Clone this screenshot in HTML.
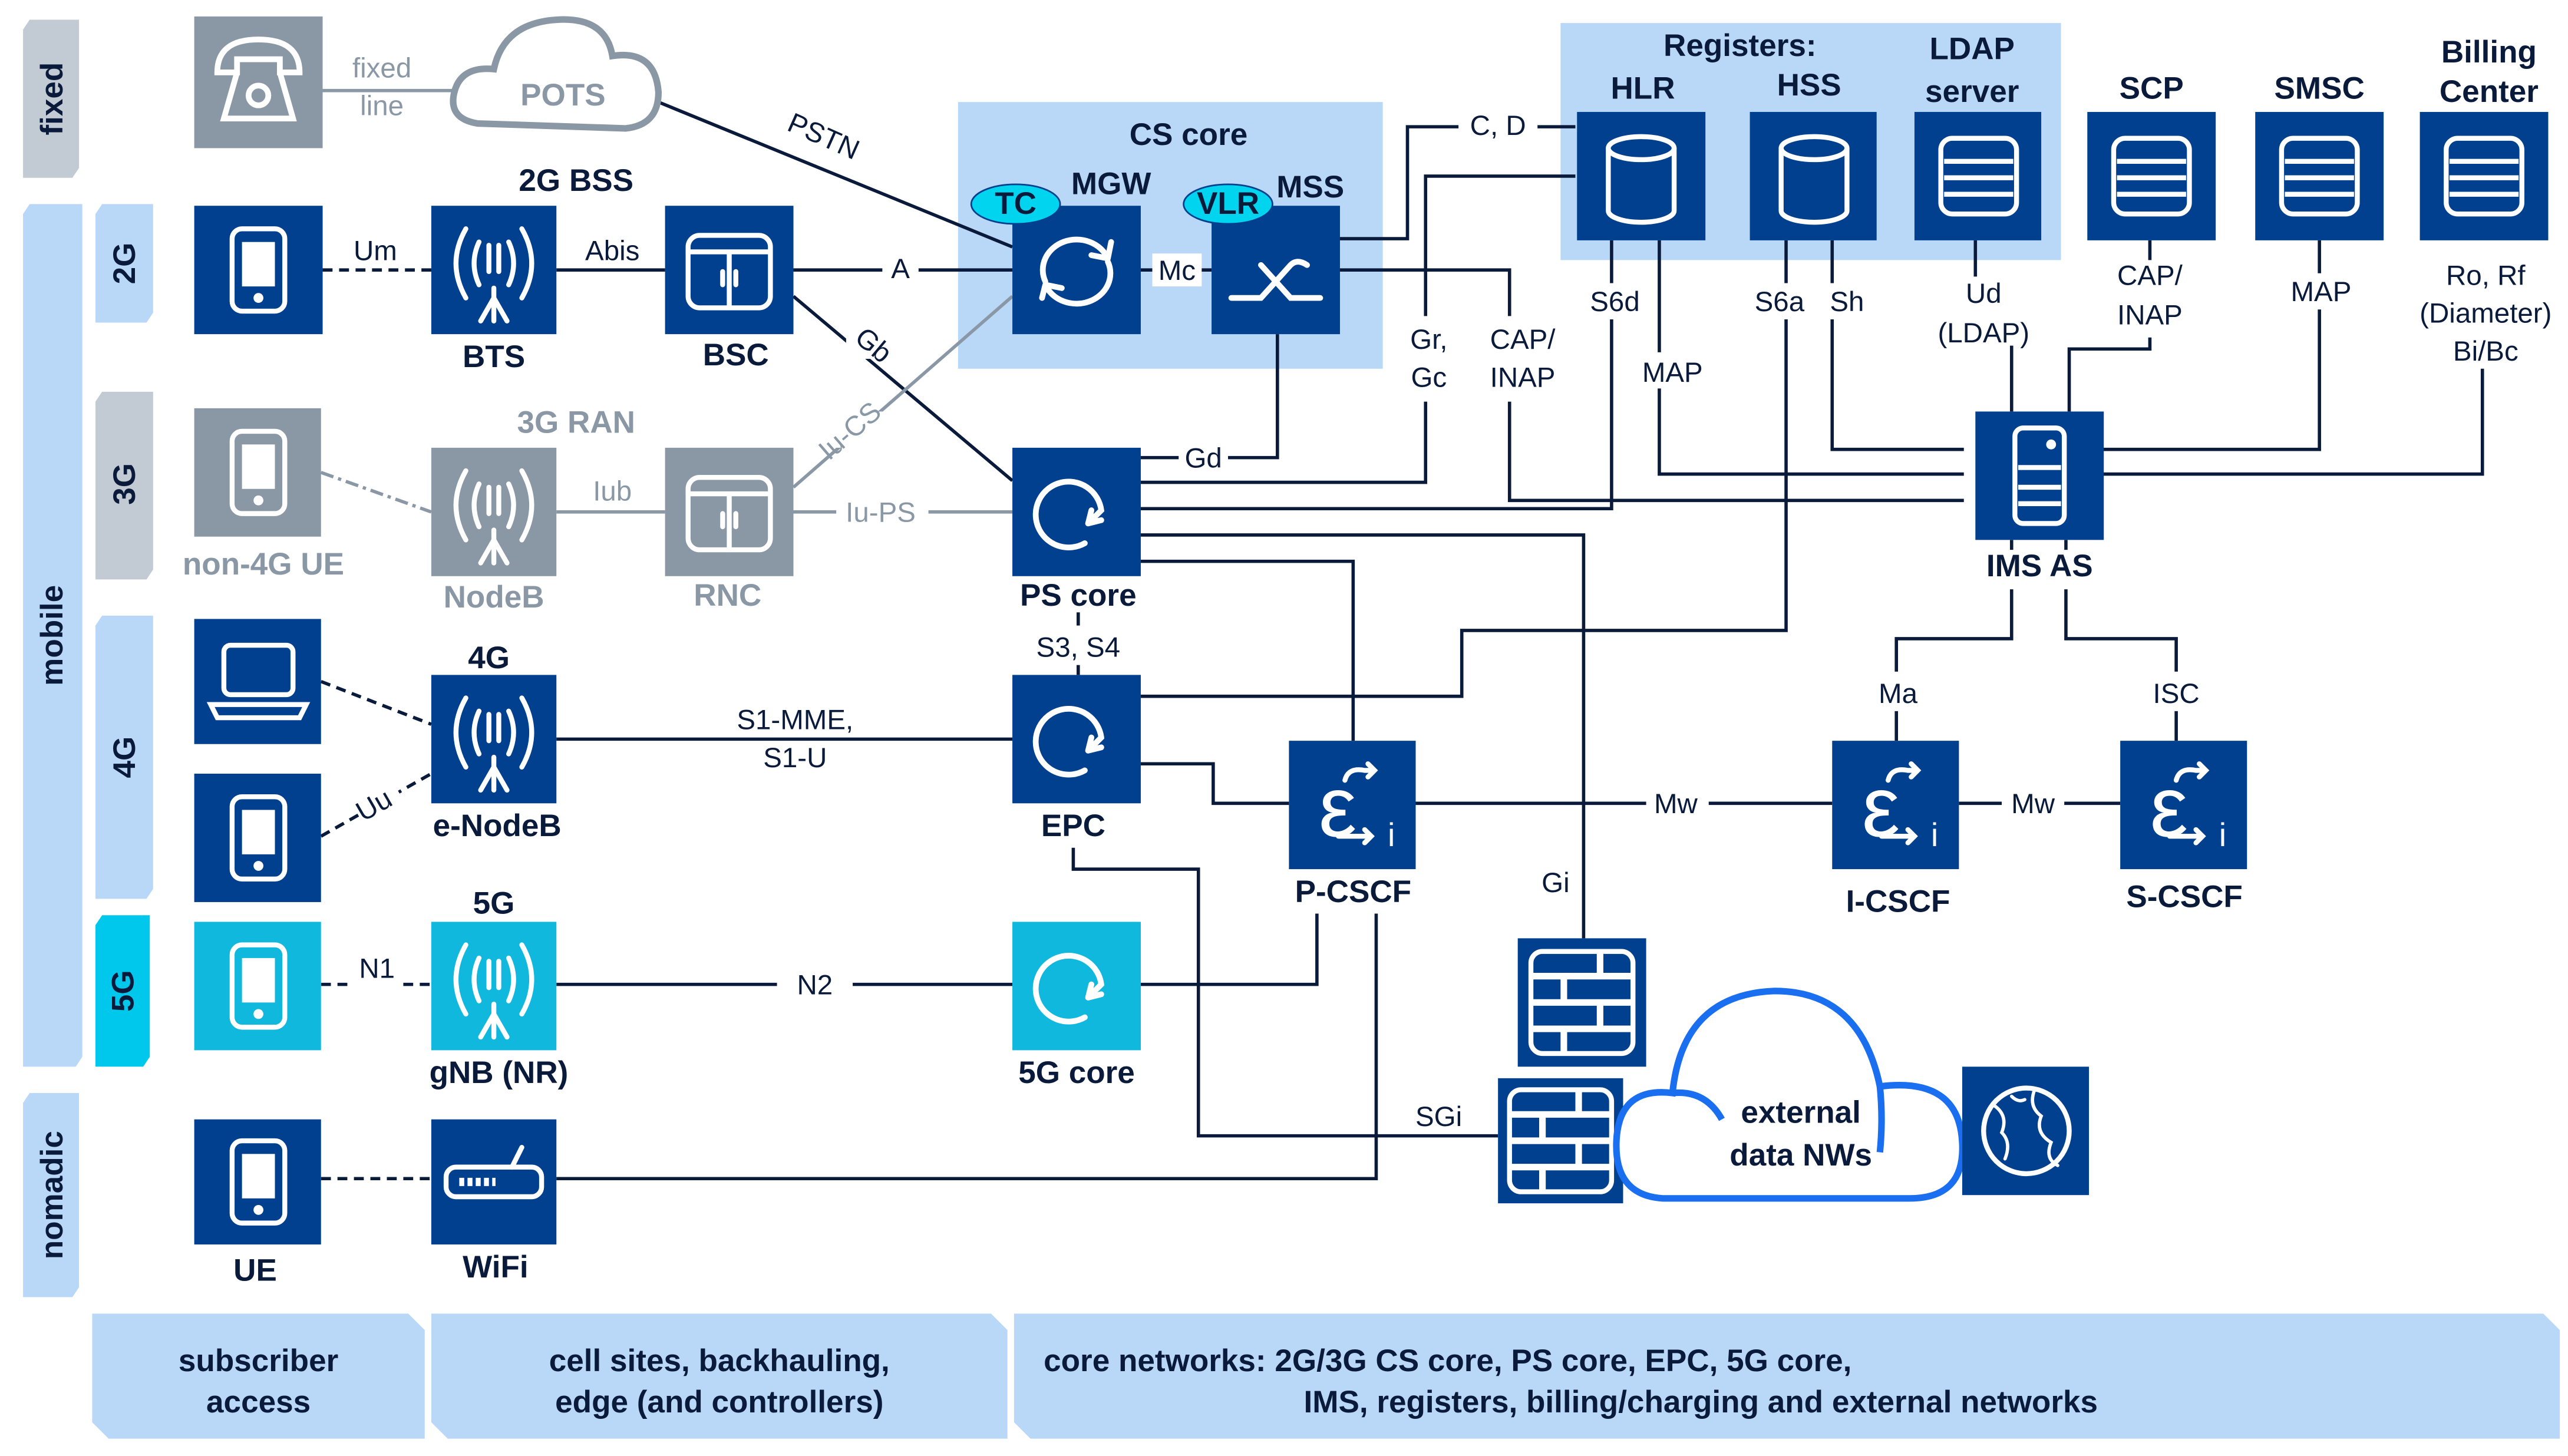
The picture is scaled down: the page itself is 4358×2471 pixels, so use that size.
<!DOCTYPE html>
<html><head><meta charset="utf-8"><style>
html,body{margin:0;padding:0;background:#fff;}
svg{display:block;}
text{font-family:"Liberation Sans",Arial,sans-serif;}
.b{font-weight:bold;fill:#0a1a3a;font-size:19px;text-anchor:middle;}
.g{font-weight:bold;fill:#8a97a5;font-size:19px;text-anchor:middle;}
.l{fill:#0a1a3a;font-size:17px;text-anchor:middle;}
.lg{fill:#8a97a5;font-size:17px;text-anchor:middle;}
.ln{stroke:#0a1a3a;stroke-width:2;fill:none;}
.lgr{stroke:#8a97a5;stroke-width:2;fill:none;}
.w{stroke:#fff;stroke-width:3;fill:none;stroke-linecap:round;}
.bg{fill:#fff;}
</style></head><body>
<svg width="4358" height="2471" viewBox="0 0 1560 884.5" preserveAspectRatio="none" xmlns="http://www.w3.org/2000/svg">
<defs>
<symbol id="tab" viewBox="0 0 78 78"><rect x="23" y="14" width="32" height="50" rx="6" class="w"/><rect x="29" y="22" width="20" height="27" fill="#fff"/><circle cx="39" cy="56" r="3" fill="#fff"/></symbol>
<symbol id="ant" viewBox="0 0 78 78"><path class="w" d="M22 14 Q10 35 22 56 M56 14 Q68 35 56 56 M30 22 Q24 35 30 48 M48 22 Q54 35 48 48 M36 24 V40 M42 24 V40 M39 50 V70 M39 56 L31 70 M39 56 L47 70"/></symbol>
<symbol id="bsc" viewBox="0 0 78 78"><rect x="14" y="18" width="50" height="44" rx="7" class="w"/><path class="w" d="M14 28 H64 M39 28 V62 M35 40 V48 M43 40 V48"/></symbol>
<symbol id="core" viewBox="0 0 78 78"><path class="w" d="M44 58 A20 20 0 1 1 54 38 L46 46 M46 46 L54 44 M46 46 L48 38" style="stroke-width:3.5"/></symbol>
<symbol id="mgw" viewBox="0 0 78 78"><path class="w" d="M20 46 A20 18 0 0 1 58 32 M58 32 L60 22 M58 32 L48 30 M58 34 A20 18 0 0 1 20 48 M20 48 L18 56 M20 48 L30 50" style="stroke-width:3.5"/></symbol>
<symbol id="mss" viewBox="0 0 78 78"><path class="w" d="M12 56 H30 L48 36 Q52 32 58 36 M30 36 L48 56 H66" style="stroke-width:3.5"/></symbol>
<symbol id="db" viewBox="0 0 78 78"><ellipse cx="39" cy="22" rx="20" ry="7" class="w"/><path class="w" d="M19 22 V60 A20 7 0 0 0 59 60 V22"/></symbol>
<symbol id="srv" viewBox="0 0 78 78"><rect x="16" y="16" width="46" height="46" rx="7" class="w"/><path d="M18 30 H60 M18 40 H60 M18 50 H60" stroke="#fff" stroke-width="3"/></symbol>
<symbol id="ims" viewBox="0 0 78 78"><rect x="24" y="10" width="30" height="58" rx="5" class="w"/><circle cx="46" cy="20" r="3" fill="#fff"/><path d="M26 34 H52 M26 46 H52 M26 56 H52" stroke="#fff" stroke-width="3"/></symbol>
<symbol id="fw" viewBox="0 0 78 78"><rect x="8" y="8" width="62" height="62" rx="7" class="w"/><path d="M8 23 H70 M8 39 H70 M8 55 H70 M50 8 V23 M28 23 V39 M50 39 V55 M28 55 V70" stroke="#fff" stroke-width="4"/></symbol>
<symbol id="globe" viewBox="0 0 78 78"><circle cx="39" cy="39" r="26" class="w"/><path class="w" style="stroke-width:2" d="M20 24 Q28 30 24 40 Q30 46 26 56 M44 14 Q40 24 48 30 Q44 40 54 46 Q50 56 58 60 M30 18 Q34 22 38 20"/></symbol>
<symbol id="lap" viewBox="0 0 78 78"><rect x="18" y="16" width="42" height="30" rx="4" class="w"/><path class="w" d="M10 52 H68 L64 60 H14 Z"/></symbol>
<symbol id="wifi" viewBox="0 0 78 78"><rect x="10" y="30" width="58" height="18" rx="6" class="w"/><path d="M18 39 H40" stroke="#fff" stroke-width="5" stroke-dasharray="3 2"/><path class="w" d="M50 30 L56 18"/></symbol>
<symbol id="cscf" viewBox="0 0 78 78"><text x="18" y="58" font-size="52" fill="#fff" font-family="Liberation Serif,serif">ε</text><path class="w" d="M34 24 Q36 16 46 18 L52 18 M48 14 L52 18 L48 22 M30 58 H50 M46 54 L50 58 L46 62"/><text x="60" y="64" font-size="20" fill="#fff">i</text></symbol>
</defs>

<!-- left bars -->
<path d="M18 12 H48 V102 L44 108 H14 V18 Z" fill="#c2cad3"/>
<text transform="translate(38,60) rotate(-90)" class="b" font-size="19" style="fill:#0a1a3a">fixed</text>
<path d="M18 124 H50 V642 L46 648 H14 V130 Z" fill="#b9d7f7"/>
<text transform="translate(38,386) rotate(-90)" class="b">mobile</text>
<path d="M18 664 H48 V782 L44 788 H14 V670 Z" fill="#b9d7f7"/>
<text transform="translate(38,726) rotate(-90)" class="b">nomadic</text>
<path d="M62 124 H93 V190 L89 196 H58 V130 Z" fill="#b9d7f7"/>
<text transform="translate(82,160) rotate(-90)" class="b">2G</text>
<path d="M62 238 H93 V346 L89 352 H58 V244 Z" fill="#c2cad3"/>
<text transform="translate(82,294) rotate(-90)" class="b">3G</text>
<path d="M62 374 H93 V540 L89 546 H58 V380 Z" fill="#b9d7f7"/>
<text transform="translate(82,460) rotate(-90)" class="b">4G</text>
<path d="M62 556 H91 V642 L87 648 H58 V562 Z" fill="#00c8ec"/>
<text transform="translate(81,602) rotate(-90)" class="b">5G</text>

<!-- panels -->
<rect x="582" y="62" width="258" height="162" fill="#b9d7f7"/>
<text x="722" y="88" class="b">CS core</text>
<rect x="948" y="14" width="304" height="144" fill="#b9d7f7"/>
<text x="1057" y="34" class="b">Registers:</text>

<!-- connectors -->
<path class="lgr" d="M196 55 H280"/>
<text x="232" y="47" class="lg">fixed</text><text x="232" y="70" class="lg">line</text>
<path class="ln" d="M400 62 L615 150"/>
<text transform="translate(498,88) rotate(24)" class="l">PSTN</text>
<path class="ln" d="M196 164 H262" stroke-dasharray="6 4"/>
<text x="228" y="158" class="l">Um</text>
<path class="ln" d="M338 164 H404"/><text x="372" y="158" class="l">Abis</text>
<path class="ln" d="M482 164 H615"/><rect x="536" y="152" width="22" height="22" class="bg"/><text x="547" y="169" class="l">A</text>
<path class="ln" d="M693 164 H736"/><rect x="700" y="154" width="30" height="20" class="bg"/><text x="715" y="170" class="l">Mc</text>
<path class="ln" d="M482 180 L615 292"/><rect x="514" y="198" width="26" height="20" class="bg"/><text transform="translate(527,214) rotate(40)" class="l">Gb</text>
<path class="lgr" d="M482 296 L615 180"/><rect x="498" y="250" width="44" height="22" class="bg"/><text transform="translate(520,266) rotate(-41)" class="lg">Iu-CS</text>
<path class="lgr" d="M482 311 H615"/><rect x="508" y="300" width="56" height="22" class="bg"/><text x="535" y="317" class="lg">Iu-PS</text>
<path class="lgr" d="M338 311 H404"/><text x="372" y="304" class="lg">Iub</text>
<path class="lgr" d="M195 287 L262 311" stroke-dasharray="8 3 2 3"/>
<path class="ln" d="M776 203 V278 H693"/><rect x="716" y="268" width="30" height="20" class="bg"/><text x="731" y="284" class="l">Gd</text>
<path class="ln" d="M814 145 H855 V77 H957"/><rect x="886" y="66" width="48" height="22" class="bg"/><text x="910" y="82" class="l">C, D</text>
<path class="ln" d="M693 293 H866 V107 H957"/><rect x="852" y="192" width="30" height="52" class="bg"/><text x="868" y="212" class="l">Gr,</text><text x="868" y="235" class="l">Gc</text>
<path class="ln" d="M814 164 H917 V304 H1193"/><rect x="896" y="192" width="52" height="52" class="bg"/><text x="925" y="212" class="l">CAP/</text><text x="925" y="235" class="l">INAP</text>
<path class="ln" d="M693 309 H979 V146"/><rect x="964" y="172" width="36" height="22" class="bg"/><text x="981" y="189" class="l">S6d</text>
<path class="ln" d="M1008 146 V288 H1193"/><rect x="994" y="214" width="44" height="22" class="bg"/><text x="1016" y="232" class="l">MAP</text>
<path class="ln" d="M693 423 H888 V383 H1085 V146"/><rect x="1062" y="172" width="38" height="22" class="bg"/><text x="1081" y="189" class="l">S6a</text>
<path class="ln" d="M1113 146 V273 H1193"/><rect x="1108" y="172" width="30" height="22" class="bg"/><text x="1122" y="189" class="l">Sh</text>
<path class="ln" d="M1200 146 V168 M1222 210 V250"/><text x="1205" y="184" class="l">Ud</text><text x="1205" y="208" class="l">(LDAP)</text>
<path class="ln" d="M1306 146 V158 M1306 205 V212 H1257 V250"/><text x="1306" y="173" class="l">CAP/</text><text x="1306" y="197" class="l">INAP</text>
<path class="ln" d="M1271 273 H1409 V146"/><rect x="1390" y="166" width="40" height="22" class="bg"/><text x="1410" y="183" class="l">MAP</text>
<path class="ln" d="M1271 288 H1508 V224"/><text x="1510" y="173" class="l">Ro, Rf</text><text x="1510" y="196" class="l">(Diameter)</text><text x="1510" y="219" class="l">Bi/Bc</text>
<path class="ln" d="M693 325 H962 V570"/><rect x="934" y="524" width="24" height="22" class="bg"/><text x="945" y="542" class="l">Gi</text>
<path class="ln" d="M693 341 H822 V450"/>
<path class="ln" d="M655 372 V410"/><rect x="615" y="380" width="80" height="24" class="bg"/><text x="655" y="399" class="l">S3, S4</text>
<path class="ln" d="M338 449 H615"/><text x="483" y="443" class="l">S1-MME,</text><text x="483" y="466" class="l">S1-U</text>
<path class="ln" d="M693 464 H737 V488 H783"/>
<path class="ln" d="M860 488 H1113"/><rect x="1000" y="477" width="38" height="22" class="bg"/><text x="1018" y="494" class="l">Mw</text>
<path class="ln" d="M1190 488 H1288"/><rect x="1216" y="477" width="38" height="22" class="bg"/><text x="1235" y="494" class="l">Mw</text>
<path class="ln" d="M1222 328 V334 M1222 358 V388 H1152 V450 M1255 328 V334 M1255 358 V388 H1322 V450"/>
<rect x="1136" y="408" width="34" height="24" class="bg"/><text x="1153" y="427" class="l">Ma</text>
<rect x="1302" y="408" width="40" height="24" class="bg"/><text x="1322" y="427" class="l">ISC</text>
<path class="ln" d="M195 414 L262 440 M195 508 L262 470" stroke-dasharray="6 4"/>
<rect x="216" y="478" width="28" height="20" class="bg" transform="rotate(-30,230,488)"/>
<text transform="translate(230,494) rotate(-30)" class="l">Uu</text>
<path class="ln" d="M195 598 H262" stroke-dasharray="6 4"/><rect x="214" y="580" width="30" height="20" class="bg"/><text x="229" y="594" class="l">N1</text>
<path class="ln" d="M338 598 H615"/><rect x="472" y="586" width="46" height="22" class="bg"/><text x="495" y="604" class="l">N2</text>
<path class="ln" d="M693 598 H800 V555"/>
<path class="ln" d="M652 515 V528 H728 V690 H910"/><text x="874" y="684" class="l">SGi</text>
<path class="ln" d="M195 716 H262" stroke-dasharray="6 4"/>
<path class="ln" d="M338 716 H836 V555"/>

<!-- POTS cloud -->
<path d="M290 75 Q272 72 276 56 Q280 40 300 42 Q306 14 338 12 Q368 10 372 34 Q398 30 400 56 Q400 76 380 78 Z" fill="#fff" stroke="#8a97a5" stroke-width="4"/>
<text x="342" y="64" class="g" style="fill:#8a97a5">POTS</text>

<!-- nodes -->
<rect x="118" y="10" width="78" height="80" fill="#8a97a5"/>
<path d="M132 44 Q132 24 157 24 Q182 24 182 44 H170 V36 H144 V44 Z M144 44 L136 72 H178 L170 44" stroke="#fff" stroke-width="3.5" fill="none"/><circle cx="157" cy="58" r="6" stroke="#fff" stroke-width="3.5" fill="none"/>

<rect x="118" y="125" width="78" height="78" fill="#00408f"/><use href="#tab" x="118" y="125" width="78" height="78"/>
<rect x="262" y="125" width="76" height="78" fill="#00408f"/><use href="#ant" x="261" y="125" width="78" height="78"/>
<rect x="404" y="125" width="78" height="78" fill="#00408f"/><use href="#bsc" x="404" y="125" width="78" height="78"/>
<text x="350" y="116" class="b">2G BSS</text>
<text x="300" y="223" class="b">BTS</text><text x="447" y="222" class="b">BSC</text>

<rect x="118" y="248" width="77" height="78" fill="#8a97a5"/><use href="#tab" x="118" y="248" width="78" height="78"/>
<rect x="262" y="272" width="76" height="78" fill="#8a97a5"/><use href="#ant" x="261" y="272" width="78" height="78"/>
<rect x="404" y="272" width="78" height="78" fill="#8a97a5"/><use href="#bsc" x="404" y="272" width="78" height="78"/>
<text x="350" y="263" class="g">3G RAN</text>
<text x="160" y="349" class="g">non-4G UE</text><text x="300" y="369" class="g">NodeB</text><text x="442" y="368" class="g">RNC</text>

<rect x="118" y="376" width="77" height="76" fill="#00408f"/><use href="#lap" x="118" y="376" width="78" height="78"/>
<rect x="118" y="470" width="77" height="78" fill="#00408f"/><use href="#tab" x="118" y="470" width="78" height="78"/>
<rect x="262" y="410" width="76" height="78" fill="#00408f"/><use href="#ant" x="261" y="410" width="78" height="78"/>
<text x="297" y="406" class="b">4G</text><text x="302" y="508" class="b">e-NodeB</text>

<rect x="118" y="560" width="77" height="78" fill="#10b8de"/><use href="#tab" x="118" y="560" width="78" height="78"/>
<rect x="262" y="560" width="76" height="78" fill="#10b8de"/><use href="#ant" x="261" y="560" width="78" height="78"/>
<text x="300" y="555" class="b">5G</text><text x="303" y="658" class="b">gNB (NR)</text>

<rect x="118" y="680" width="77" height="76" fill="#00408f"/><use href="#tab" x="118" y="679" width="78" height="78"/>
<rect x="262" y="680" width="76" height="76" fill="#00408f"/><use href="#wifi" x="261" y="679" width="78" height="78"/>
<text x="155" y="778" class="b">UE</text><text x="301" y="776" class="b">WiFi</text>

<rect x="615" y="125" width="78" height="78" fill="#00408f"/><use href="#mgw" x="615" y="125" width="78" height="78"/>
<rect x="736" y="125" width="78" height="78" fill="#00408f"/><use href="#mss" x="736" y="125" width="78" height="78"/>
<ellipse cx="617" cy="124" rx="27" ry="12" fill="#00d4ee" stroke="#00408f" stroke-width="1"/><text x="617" y="130" class="b" font-size="16">TC</text>
<ellipse cx="746" cy="124" rx="27" ry="12" fill="#00d4ee" stroke="#00408f" stroke-width="1"/><text x="746" y="130" class="b" font-size="16">VLR</text>
<text x="675" y="118" class="b">MGW</text><text x="796" y="120" class="b">MSS</text>

<rect x="615" y="272" width="78" height="78" fill="#00408f"/><use href="#core" x="615" y="272" width="78" height="78"/>
<text x="655" y="368" class="b">PS core</text>
<rect x="615" y="410" width="78" height="78" fill="#00408f"/><use href="#core" x="615" y="410" width="78" height="78"/>
<text x="652" y="508" class="b">EPC</text>
<rect x="615" y="560" width="78" height="78" fill="#10b8de"/><use href="#core" x="615" y="560" width="78" height="78"/>
<text x="654" y="658" class="b">5G core</text>

<rect x="783" y="450" width="77" height="78" fill="#00408f"/><use href="#cscf" x="783" y="450" width="78" height="78"/>
<text x="822" y="548" class="b">P-CSCF</text>
<rect x="1113" y="450" width="77" height="78" fill="#00408f"/><use href="#cscf" x="1113" y="450" width="78" height="78"/>
<text x="1153" y="554" class="b">I-CSCF</text>
<rect x="1288" y="450" width="77" height="78" fill="#00408f"/><use href="#cscf" x="1288" y="450" width="78" height="78"/>
<text x="1327" y="551" class="b">S-CSCF</text>

<rect x="958" y="68" width="78" height="78" fill="#00408f"/><use href="#db" x="958" y="68" width="78" height="78"/>
<rect x="1063" y="68" width="77" height="78" fill="#00408f"/><use href="#db" x="1063" y="68" width="78" height="78"/>
<rect x="1163" y="68" width="77" height="78" fill="#00408f"/><use href="#srv" x="1163" y="68" width="78" height="78"/>
<text x="998" y="60" class="b">HLR</text><text x="1099" y="58" class="b">HSS</text>
<text x="1198" y="36" class="b">LDAP</text><text x="1198" y="62" class="b">server</text>
<rect x="1268" y="68" width="78" height="78" fill="#00408f"/><use href="#srv" x="1268" y="68" width="78" height="78"/>
<rect x="1370" y="68" width="78" height="78" fill="#00408f"/><use href="#srv" x="1370" y="68" width="78" height="78"/>
<rect x="1470" y="68" width="78" height="78" fill="#00408f"/><use href="#srv" x="1470" y="68" width="78" height="78"/>
<text x="1307" y="60" class="b">SCP</text><text x="1409" y="60" class="b">SMSC</text>
<text x="1512" y="38" class="b">Billing</text><text x="1512" y="62" class="b">Center</text>

<rect x="1200" y="250" width="78" height="78" fill="#00408f"/><use href="#ims" x="1200" y="250" width="78" height="78"/>
<text x="1239" y="350" class="b">IMS AS</text>

<rect x="922" y="570" width="78" height="78" fill="#00408f"/><use href="#fw" x="922" y="570" width="78" height="78"/>
<rect x="910" y="655" width="76" height="76" fill="#00408f"/><use href="#fw" x="909" y="654" width="78" height="78"/>
<path d="M1010 728 Q980 726 982 692 Q984 660 1016 664 Q1022 604 1078 602 Q1130 602 1142 660 Q1190 654 1192 694 Q1194 728 1160 728 Z" fill="#fff" stroke="#1a6ff0" stroke-width="4"/>
<path d="M1016 664 Q1036 662 1046 680 M1142 660 Q1144 680 1142 700" fill="none" stroke="#1a6ff0" stroke-width="4"/>
<text x="1094" y="682" class="b">external</text><text x="1094" y="708" class="b">data NWs</text>
<rect x="1192" y="648" width="77" height="78" fill="#00408f"/><use href="#globe" x="1192" y="648" width="78" height="78"/>

<!-- bottom bars -->
<path d="M56 798 H248 L258 808 V874 H66 L56 864 Z" fill="#b9d7f7"/>
<text x="157" y="833" class="b">subscriber</text><text x="157" y="858" class="b">access</text>
<path d="M262 798 H602 L612 808 V874 H272 L262 864 Z" fill="#b9d7f7"/>
<text x="437" y="833" class="b">cell sites, backhauling,</text><text x="437" y="858" class="b">edge (and controllers)</text>
<path d="M616 798 H1545 L1555 808 V874 H626 L616 864 Z" fill="#b9d7f7"/>
<text x="634" y="833" class="b" style="text-anchor:start">core networks: 2G/3G CS core, PS core, EPC, 5G core,</text>
<text x="792" y="858" class="b" style="text-anchor:start">IMS, registers, billing/charging and external networks</text>
</svg>
</body></html>
